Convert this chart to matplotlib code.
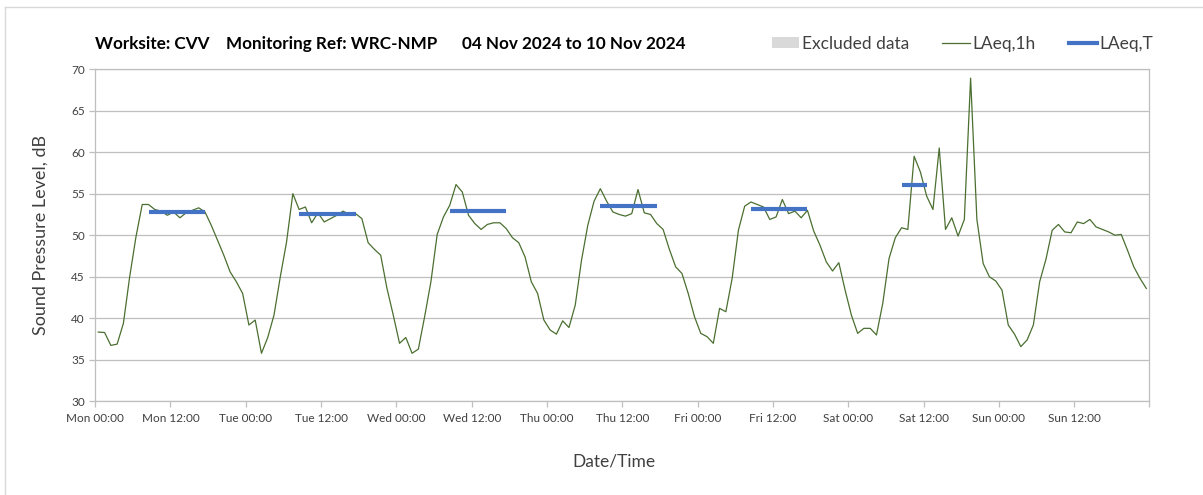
import numpy as np
import matplotlib
matplotlib.use("Agg")
import matplotlib.pyplot as plt
from matplotlib.patches import Patch
from matplotlib.lines import Line2D

plt.rcParams['font.family'] = ['Lato', 'DejaVu Sans']

# hourly LAeq,1h values, one list per day (Mon..Sun), dB
mon = [38.35, 38.3, 36.75, 36.9, 39.4, 45.0, 49.8, 53.7, 53.7, 53.1, 52.9, 52.4,
       52.8, 52.1, 52.7, 53.0, 53.3, 52.8, 51.2, 49.4, 47.6, 45.6, 44.4, 43.0]
tue = [39.2, 39.8, 35.8, 37.7, 40.4, 45.0, 49.2, 55.0, 53.1, 53.4, 51.5, 52.7,
       51.6, 52.0, 52.4, 52.9, 52.5, 52.6, 52.0, 49.1, 48.3, 47.6, 43.6, 40.4]
wed = [37.0, 37.7, 35.8, 36.3, 40.2, 44.4, 50.1, 52.2, 53.6, 56.1, 55.2, 52.4,
       51.4, 50.7, 51.3, 51.5, 51.5, 50.8, 49.7, 49.1, 47.4, 44.4, 43.0, 39.8]
thu = [38.6, 38.1, 39.7, 38.9, 41.6, 47.0, 51.2, 54.1, 55.6, 54.1, 52.8, 52.5,
       52.3, 52.6, 55.5, 52.7, 52.5, 51.4, 50.7, 48.3, 46.2, 45.4, 43.0, 40.2]
fri = [38.2, 37.8, 37.0, 41.2, 40.8, 44.8, 50.6, 53.5, 54.0, 53.7, 53.4, 51.9,
       52.2, 54.3, 52.6, 52.9, 52.1, 53.0, 50.5, 48.8, 46.8, 45.7, 46.7, 43.4]
sat = [40.4, 38.2, 38.8, 38.8, 38.0, 41.8, 47.2, 49.7, 50.9, 50.7, 59.5, 57.6,
       54.7, 53.1, 60.5, 50.7, 52.1, 49.9, 51.9, 68.9, 51.9, 46.6, 45.0, 44.5]
sun = [43.4, 39.2, 38.1, 36.6, 37.4, 39.2, 44.4, 47.1, 50.6, 51.3, 50.4, 50.3,
       51.6, 51.4, 51.9, 51.0, 50.7, 50.4, 50.0, 50.1, 48.2, 46.2, 44.8, 43.6]

# LAeq,T periods (hours from Mon 00:00) and levels
period_start = [8, 32, 56, 80, 104, 128]
period_end = [18, 42, 66, 90, 114, 133]
period_level = [52.8, 52.5, 52.9, 53.5, 53.1, 56.0]

day_names = ['Mon', 'Tue', 'Wed', 'Thu', 'Fri', 'Sat', 'Sun']

laeq_1h = np.array(mon + tue + wed + thu + fri + sat + sun)
hours = np.arange(len(laeq_1h)) + 0.5

fig = plt.figure(figsize=(12.03, 4.95), dpi=100)
ax = fig.add_axes([0.0791, 0.1889, 0.8764, 0.6717])

ax.plot(hours, laeq_1h, color='#4A6F30', lw=0.9, zorder=3)
for s, e, lv in zip(period_start, period_end, period_level):
    t = np.arange(s, e) + 0.5
    ax.plot(t, [lv] * len(t), color='#4472C4', lw=3, solid_capstyle='butt', zorder=4)

ax.set_xlim(0, 168)
ax.set_ylim(30, 70)
ax.set_yticks(np.arange(30, 71, 5))
ax.set_xticks(np.arange(0, 169, 12))
labels = []
for d in day_names:
    labels += [d + ' 00:00', d + ' 12:00']
ax.set_xticklabels(labels + [''])
ax.set_xticks(np.arange(0, 169, 24), minor=True)

ax.grid(axis='y', color='#bfbfbf', lw=0.9)
ax.grid(axis='x', which='minor', color='#d9d9d9', lw=0.9)
ax.set_axisbelow(True)
for sp in ax.spines.values():
    sp.set_color('#bfbfbf')
    sp.set_linewidth(0.9)

ax.tick_params(axis='both', which='major', colors='#bfbfbf', labelcolor='#404040',
               labelsize=8.5, length=4, width=0.9)
ax.tick_params(axis='x', which='minor', length=0)
ax.tick_params(axis='x', pad=4)

ax.set_ylabel('Sound Pressure Level, dB', fontsize=13, color='#404040', labelpad=16)
ax.set_xlabel('Date/Time', fontsize=12.5, color='#404040', labelpad=22)
ax.xaxis.set_label_coords(0.492, -0.155)

ty = 0.912
fig.text(0.079, ty, 'Worksite: CVV', fontsize=12.3, fontweight='bold', va='center')
fig.text(0.188, ty, 'Monitoring Ref: WRC-NMP', fontsize=12.3, fontweight='bold', va='center')
fig.text(0.384, ty, '04 Nov 2024 to 10 Nov 2024', fontsize=12.3, fontweight='bold', va='center')

handles = [Patch(facecolor='#d9d9d9', edgecolor='none'),
           Line2D([], [], color='#4A6F30', lw=0.9),
           Line2D([], [], color='#4472C4', lw=3)]
fig.legend(handles, ['Excluded data', 'LAeq,1h', 'LAeq,T'], ncol=3, frameon=False,
           loc='center', bbox_to_anchor=(0.800, 0.911), fontsize=12.5,
           handlelength=1.6, handleheight=0.6, handletextpad=0.15, columnspacing=1.9,
           labelcolor='#404040')

# chart area border (left and top edges visible)
fig.add_artist(Line2D([5 / 1203, 5 / 1203], [0, 1 - 7 / 495], transform=fig.transFigure,
                      color='#d9d9d9', lw=1))
fig.add_artist(Line2D([5 / 1203, 1], [1 - 7 / 495, 1 - 7 / 495], transform=fig.transFigure,
                      color='#d9d9d9', lw=1))

fig.savefig('out.png', dpi=100)
